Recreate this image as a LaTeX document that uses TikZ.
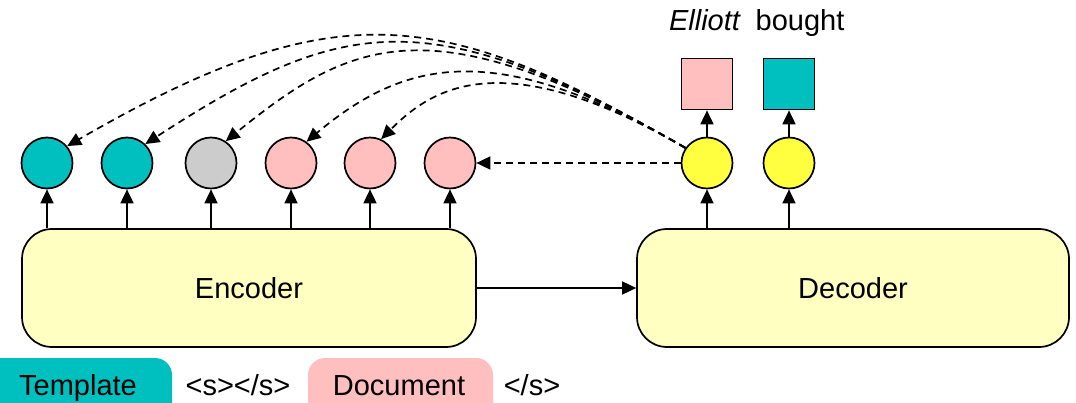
\documentclass[tikz,border=0pt]{standalone}
\usepackage{fontspec}
\setmainfont{Liberation Sans}
\usetikzlibrary{arrows.meta,calc}
\definecolor{tealfill}{RGB}{0,191,191}
\definecolor{pinkfill}{RGB}{255,191,191}
\definecolor{grayfill}{RGB}{204,204,204}
\definecolor{yellowfill}{RGB}{255,255,64}
\definecolor{blockfill}{RGB}{255,255,194}
\begin{document}
\begin{tikzpicture}[x=1pt,y=1pt,
  txt/.style={font=\fontsize{29}{34}\selectfont,inner sep=0pt},
  tok/.style={circle,draw,line width=1.7pt,minimum size=51pt,inner sep=0pt},
  outsq/.style={rectangle,draw,line width=1.7pt,minimum size=51pt,inner sep=0pt},
  block/.style={rectangle,draw,line width=1.7pt,rounded corners=30pt,fill=blockfill,
    inner sep=0pt,minimum height=118pt,txt},
  link/.style={line width=1.7pt,-{Triangle[length=14pt,width=13pt]}},
  attn/.style={link,dash pattern=on 7pt off 5pt},
]
\clip (0,0) rectangle (1076,402);

% encoder and decoder blocks
\node[block,minimum width=454pt] (enc) at (249,114) {Encoder};
\node[block,minimum width=432pt] (dec) at (853,114) {Decoder};
\draw[link] (enc.east) -- (dec.west);

% encoder output states
\node[tok,fill=tealfill] (c1) at (47,239) {};
\node[tok,fill=tealfill] (c2) at (127,239) {};
\node[tok,fill=grayfill] (c3) at (211,239) {};
\node[tok,fill=pinkfill] (c4) at (291,239) {};
\node[tok,fill=pinkfill] (c5) at (370,239) {};
\node[tok,fill=pinkfill] (c6) at (450,239) {};
\foreach \c in {c1,c2,c3,c4,c5,c6}
  \draw[link] (\c |- enc.north) -- (\c.south);

% decoder states and outputs
\node[tok,fill=yellowfill] (y1) at (707,239) {};
\node[tok,fill=yellowfill] (y2) at (789,239) {};
\node[outsq,fill=pinkfill] (o1) at (707,318) {};
\node[outsq,fill=tealfill] (o2) at (789,318) {};
\foreach \y/\o in {y1/o1,y2/o2}{
  \draw[link] (\y |- dec.north) -- (\y.south);
  \draw[link] (\y.north) -- (\o.south);
}
\node[txt,anchor=base] (w1) at (705,371) {\textit{Elliott}};
\node[txt,anchor=base] (w2) at (800,371) {bought};

% attention links back to the encoder states
\draw[attn] (y1.145) .. controls +(150:280pt) and +(30:313pt) .. (c1.40);
\draw[attn] (y1.145) .. controls +(150:296pt) and +(33:234pt) .. (c2.46);
\draw[attn] (y1.145) .. controls +(150:294pt) and +(39:160pt) .. (c3.56);
\draw[attn] (y1.145) .. controls +(150:217pt) and +(40:131pt) .. (c4.54);
\draw[attn] (y1.145) .. controls +(150:213pt) and +(45:71pt) .. (c5.65);
\draw[attn] (y1.west) -- (c6.east);

% input layout legend
\fill[tealfill,rounded corners=17pt] (-20,-40) rectangle (172,44);
\fill[pinkfill,rounded corners=17pt] (308,-40) rectangle (493,44);
\node[txt,anchor=base] (l1) at (78,7) {Template};
\node[txt,anchor=base] (l2) at (238,7) {<s></s>};
\node[txt,anchor=base] (l3) at (399,7) {Document};
\node[txt,anchor=base] (l4) at (532,7) {</s>};
\end{tikzpicture}
\end{document}
